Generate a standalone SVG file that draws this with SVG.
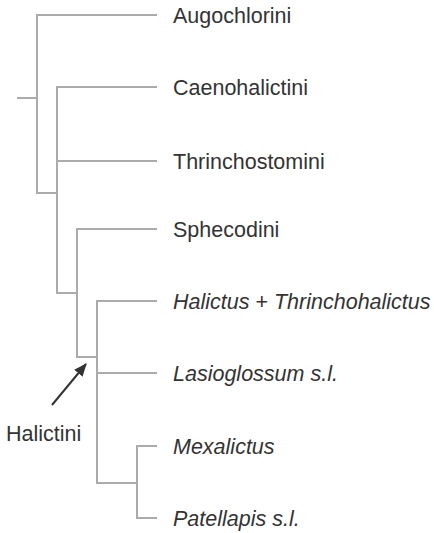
<svg xmlns="http://www.w3.org/2000/svg" width="434" height="533" viewBox="0 0 434 533">
<style>
.br{stroke:#ababab;stroke-width:2;fill:none;stroke-linecap:butt}
.lb{font-family:"Liberation Sans",Arial,sans-serif;font-size:21.5px;fill:#333}
.it{font-style:italic}
</style>
<defs>
<marker id="ah" viewBox="0 0 12 10" refX="11" refY="5" markerWidth="6.5" markerHeight="5.5" orient="auto" markerUnits="strokeWidth">
<path d="M0,0 L12,5 L0,10 Z" fill="#333"/>
</marker>
</defs>
<rect width="434" height="533" fill="#fff"/>
<g id="connectors" class="br">
<path d="M17,98 H37"/>
<path d="M157,15 H37 V193 H57"/>
<path d="M157,87 H57 V293 H77"/>
<path d="M57,161 H157"/>
<path d="M157,229 H77 V357 H97"/>
<path d="M157,301 H97 V483 H137"/>
<path d="M97,373 H157"/>
<path d="M157,446 H137 V518 H157"/>
</g>
<g id="augochlorini"><text class="lb" x="173" y="22.5">Augochlorini</text></g>
<g id="caenohalictini"><text class="lb" x="173" y="94.5">Caenohalictini</text></g>
<g id="thrinchostomini"><text class="lb" x="173" y="168.5">Thrinchostomini</text></g>
<g id="sphecodini"><text class="lb" x="173" y="236.5">Sphecodini</text></g>
<g id="halictus"><text class="lb it" x="173" y="308.5">Halictus<tspan font-style="normal"> + </tspan>Thrinchohalictus</text></g>
<g id="lasioglossum"><text class="lb it" x="173" y="380.5">Lasioglossum s.l.</text></g>
<g id="mexalictus"><text class="lb it" x="173" y="453.5">Mexalictus</text></g>
<g id="patellapis"><text class="lb it" x="173" y="525.5">Patellapis s.l.</text></g>
<g id="halictini">
<text class="lb" x="6" y="440.5">Halictini</text>
<line x1="52" y1="405" x2="86" y2="364" stroke="#333" stroke-width="2" marker-end="url(#ah)"/>
</g>
</svg>
